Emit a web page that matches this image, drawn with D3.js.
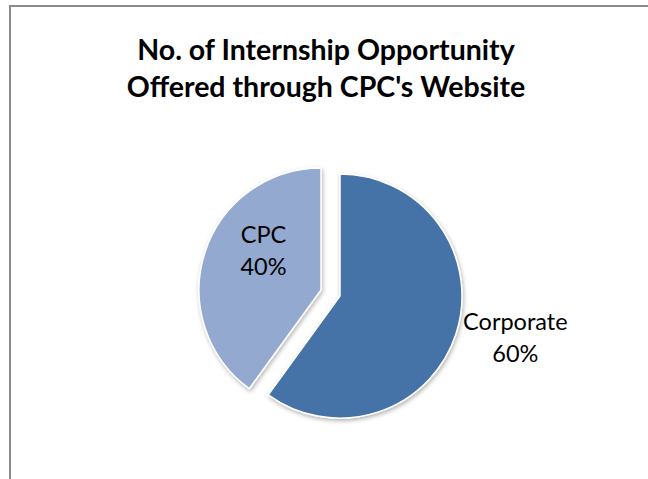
<!DOCTYPE html>
<html>
<head>
<meta charset="utf-8">
<script src="https://cdnjs.cloudflare.com/ajax/libs/d3/7.8.5/d3.min.js"></script>
<style>
  body { margin: 0; background: #fff; }
  svg { display: block; }
</style>
</head>
<body>
<div id="chart"></div>
<script>
// data
const categories = ["Corporate", "CPC"];
const values = [60, 40];
const colors = ["#4573A8", "#93A9D0"];
const titleLines = ["No. of Internship Opportunity", "Offered through CPC's Website"];

const W = 648, H = 479;
const cx = 330.5, cy = 293, R = 122;
// how far each slice is pulled out from the centre
const explode = [10, 10];

const svg = d3.select("#chart").append("svg")
  .attr("width", W)
  .attr("height", H);

// chart area border (bottom/right fall outside the picture)
svg.append("rect")
  .attr("x", 10).attr("y", 6)
  .attr("width", 700).attr("height", 600)
  .style("fill", "#fff")
  .style("stroke", "#8c8c8c")
  .style("stroke-width", 2);

const defs = svg.append("defs");
const f = defs.append("filter").attr("id", "shadow")
  .attr("x", "-20%").attr("y", "-20%").attr("width", "140%").attr("height", "140%");
f.append("feDropShadow")
  .attr("dx", 1).attr("dy", 2)
  .attr("stdDeviation", 2)
  .attr("flood-color", "#000")
  .attr("flood-opacity", 0.3);

// title
svg.append("g").selectAll("text")
  .data(titleLines)
  .join("text")
  .attr("x", 326)
  .attr("y", (d, i) => 60 + i * 37)
  .attr("text-anchor", "middle")
  .style("font-family", "Lato, 'Open Sans', sans-serif")
  .style("font-weight", "bold")
  .style("font-size", "28.5px")
  .style("fill", "#000")
  .text(d => d);

const pie = d3.pie().sort(null).value(d => d.value);
const data = categories.map((c, i) => ({ name: c, value: values[i], color: colors[i], ex: explode[i] }));
const arcs = pie(data);
const total = d3.sum(values);

const arc = d3.arc().innerRadius(0).outerRadius(R);

function offset(d) {
  const a = (d.startAngle + d.endAngle) / 2;
  return [Math.sin(a) * d.data.ex, -Math.cos(a) * d.data.ex];
}

const g = svg.append("g").attr("transform", "translate(" + cx + "," + cy + ")");

g.selectAll("path.slice")
  .data(arcs)
  .join("path")
  .attr("class", "slice")
  .attr("transform", d => "translate(" + offset(d) + ")")
  .attr("d", arc)
  .style("fill", d => d.data.color)
  .style("stroke", "#fff")
  .style("stroke-width", 1.5)
  .style("filter", "url(#shadow)");

// labels: CPC inside, Corporate just outside on the right
const labelPos = {
  "CPC": { r: 0.59, angle: 307, anchor: "middle" },
  "Corporate": { r: 1.055, angle: 107, anchor: "start" }
};

const lab = g.selectAll("g.label")
  .data(arcs)
  .join("g")
  .attr("class", "label")
  .attr("transform", d => {
    const o = offset(d);
    const lp = labelPos[d.data.name];
    const a = lp.angle == null ? (d.startAngle + d.endAngle) / 2 : lp.angle * Math.PI / 180;
    const x = o[0] + Math.sin(a) * R * lp.r;
    const y = o[1] - Math.cos(a) * R * lp.r;
    return "translate(" + x + "," + y + ")";
  });

lab.each(function (d) {
  const lp = labelPos[d.data.name];
  const t = d3.select(this).append("text")
    .style("font-family", "Lato, 'Open Sans', sans-serif")
    .style("font-size", "23.5px")
    .style("fill", "#000")
    .attr("text-anchor", "middle");
  const pct = Math.round(d.data.value / total * 100) + "%";
  t.append("tspan").attr("x", 0).attr("y", -4).text(d.data.name);
  t.append("tspan").attr("x", 0).attr("y", 28).text(pct);
  // outside labels start at the anchor point, lines stay centred on each other
  if (lp.anchor === "start") {
    const w = t.node().getBBox().width;
    t.attr("transform", "translate(" + (w / 2) + ",0)");
  }
});
</script>
</body>
</html>
